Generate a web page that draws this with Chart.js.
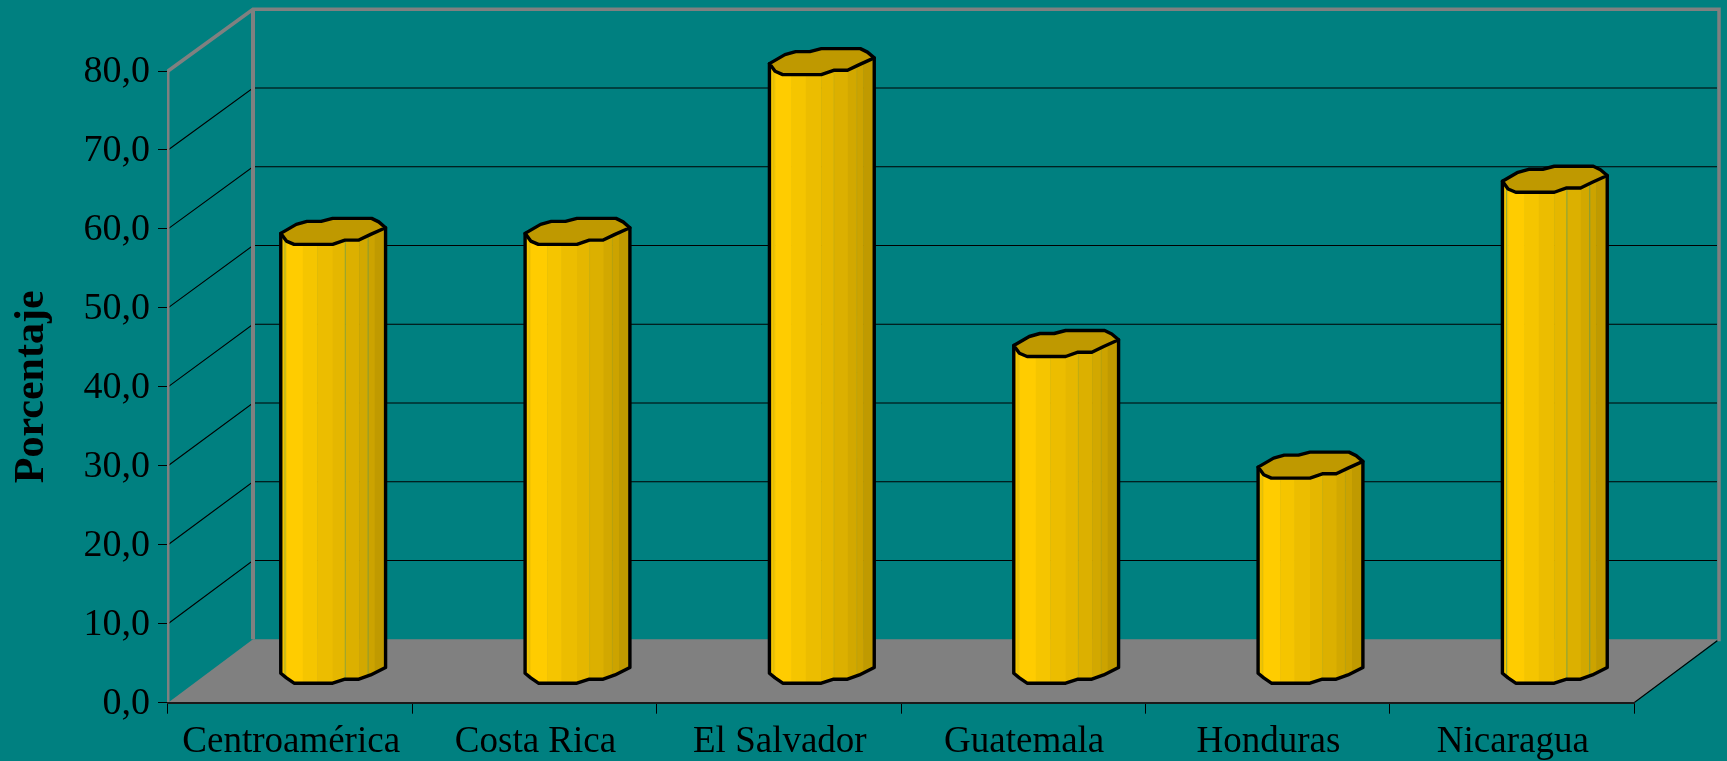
<!DOCTYPE html>
<html>
<head>
<meta charset="utf-8">
<style>html,body{margin:0;padding:0;background:#008080}canvas{display:block}</style>
<script src="https://cdn.jsdelivr.net/npm/chart.js@4"></script>
</head>
<body>
<canvas id="c" width="1727" height="761"></canvas>
<script>
const categories = ["Centroamérica", "Costa Rica", "El Salvador", "Guatemala", "Honduras", "Nicaragua"];
const values = [55.7, 55.7, 77.2, 41.5, 26.1, 62.3];
const axisTitle = "Porcentaje";

const TEAL = '#008080', GREY = '#808080', CAP = '#BF9900';
const FONT = '"Liberation Serif","Times New Roman",serif';
const DX = 85, DY_TOP = 61.7, DY_BOTTOM = 63.5;
const BAR_DX = 43, BAR_DY = 33;

const strips = [[0,.054,'#F4C400'],[.054,.21,'#FFCC00'],[.21,.347,'#F5C500'],[.347,.495,'#ECBD00'],
  [.495,.615,'#E5B700'],[.615,.748,'#DCB000'],[.748,.833,'#D2A800'],[.833,.896,'#CCA300'],[.896,1,'#C09A00']];
const seams = [.04,.615,.833];
const seamAlpha = [.45,.12,.12,.12,.12,.6];
const capOutline = [[0,3.5],[.148,-5.5],[.25,-8.5],[.385,-8.5],[.495,-11.5],[.867,-11.5],[.935,-8],[1,-2.2],
  [.858,4.5],[.745,10.2],[.613,10.2],[.495,14.5],[.127,14.5],[.054,11.2]];
const baseRim = [[0,3.5],[.054,8.2],[.127,13.5],[.495,13.5],[.613,9.5],[.745,9.5],[.858,5.2],[1,-2.2]];

const scene = {
  id: 'scene',
  beforeDraw(chart) {
    const {ctx, chartArea: a, scales: {y}} = chart;
    const W = chart.width, H = chart.height;
    const y0 = y.getPixelForValue(0), yTop = y.getPixelForValue(y.max);
    const back = p => p - (DY_TOP + (DY_BOTTOM - DY_TOP) * (p - yTop) / (y0 - yTop));
    const bx0 = a.left + DX, bx1 = a.right + DX - 1;
    ctx.save();
    ctx.fillStyle = TEAL; ctx.fillRect(0, 0, W, H);
    // floor
    ctx.fillStyle = GREY;
    ctx.beginPath();
    ctx.moveTo(a.left, y0); ctx.lineTo(bx0, back(y0)); ctx.lineTo(bx1, back(y0)); ctx.lineTo(a.right, y0);
    ctx.closePath(); ctx.fill();
    // grid lines
    ctx.strokeStyle = '#000'; ctx.lineWidth = 1.1;
    y.ticks.forEach(t => {
      if (t.value <= y.min || t.value >= y.max) return;
      const p = y.getPixelForValue(t.value);
      ctx.beginPath(); ctx.moveTo(a.left, p); ctx.lineTo(bx0, back(p)); ctx.lineTo(bx1 - 1, back(p)); ctx.stroke();
    });
    // floor right edge
    ctx.beginPath(); ctx.moveTo(a.right, y0); ctx.lineTo(bx1, back(y0) + 1); ctx.stroke();
    // frame
    ctx.strokeStyle = GREY; ctx.lineWidth = 3.5; ctx.lineJoin = 'miter';
    ctx.beginPath();
    ctx.moveTo(a.left, yTop); ctx.lineTo(bx0, back(yTop)); ctx.lineTo(bx1 + 1, back(yTop)); ctx.lineTo(bx1 + 1, back(y0) + 2);
    ctx.stroke();
    ctx.lineWidth = 4;
    ctx.beginPath(); ctx.moveTo(bx0, back(yTop)); ctx.lineTo(bx0, back(y0)); ctx.stroke();
    ctx.restore();
  },
  beforeDatasetsDraw(chart) {
    const {ctx, scales: {y}} = chart;
    const base = y.getPixelForValue(0) - BAR_DY;
    chart.getDatasetMeta(0).data.forEach((bar, idx) => {
      const w = bar.width, left = bar.x + BAR_DX - w / 2;
      const top = bar.y - BAR_DY;
      const X = u => left + u * w;
      const body = () => {
        ctx.beginPath();
        ctx.moveTo(X(0), top + 3.5);
        baseRim.forEach(([u, v]) => ctx.lineTo(X(u), base + v));
        ctx.lineTo(X(1), top - 2.2);
        ctx.closePath();
      };
      ctx.save();
      body(); ctx.save(); ctx.clip();
      strips.forEach(([a, b, c]) => { ctx.fillStyle = c; ctx.fillRect(X(a), top - 20, X(b) - X(a) + .5, base - top + 50); });
      ctx.strokeStyle = `rgba(60,150,110,${seamAlpha[idx]})`; ctx.lineWidth = 1;
      seams.forEach(u => { ctx.beginPath(); ctx.moveTo(X(u), top); ctx.lineTo(X(u), base + 20); ctx.stroke(); });
      ctx.restore();
      ctx.strokeStyle = '#000'; ctx.lineWidth = 3.4; ctx.lineJoin = 'round';
      body(); ctx.stroke();
      ctx.beginPath();
      capOutline.forEach(([u, v], i) => i ? ctx.lineTo(X(u), top + v) : ctx.moveTo(X(u), top + v));
      ctx.closePath();
      ctx.fillStyle = CAP; ctx.fill(); ctx.stroke();
      ctx.restore();
    });
    return false;
  }
};

new Chart(document.getElementById('c'), {
  type: 'bar',
  data: { labels: categories, datasets: [{ data: values, backgroundColor: '#FFCC00', categoryPercentage: .429, barPercentage: 1 }] },
  plugins: [scene],
  options: {
    responsive: false, animation: false,
    layout: { padding: { top: 71, right: 93, left: 0, bottom: 0 } },
    plugins: { legend: { display: false }, tooltip: { enabled: false }, title: { display: false } },
    scales: {
      y: {
        min: 0, max: 80,
        afterFit(s) { s.width = 168; },
        border: { display: true, color: GREY, width: 2.5 },
        grid: { drawOnChartArea: false, drawTicks: true, tickLength: 10, tickColor: '#000', color: '#000', lineWidth: 1 },
        ticks: { stepSize: 10, padding: 8, labelOffset: 1.5, color: '#000', font: { family: FONT, size: 38 },
          callback: v => v.toFixed(1).replace('.', ',') },
        title: { display: true, text: axisTitle, color: '#000', font: { family: FONT, size: 42, weight: 'bold', lineHeight: 1 }, padding: { top: 11, bottom: 0 } }
      },
      x: {
        afterFit(s) { s.height = 58.3; },
        border: { display: true, color: '#1a1a1a', width: 2 },
        grid: { drawOnChartArea: false, drawTicks: true, tickLength: 11, tickColor: '#000', color: '#000', lineWidth: 1 },
        ticks: { autoSkip: false, maxRotation: 0, padding: 6, labelOffset: 1, color: '#000', font: { family: FONT, size: 37 } }
      }
    }
  }
});
</script>
</body>
</html>
